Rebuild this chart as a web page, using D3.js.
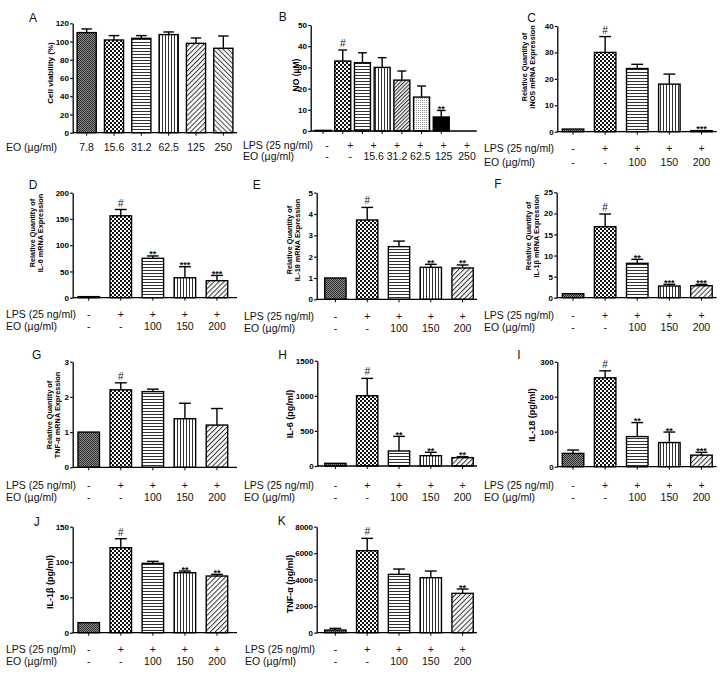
<!DOCTYPE html>
<html><head><meta charset="utf-8">
<script src="https://cdn.jsdelivr.net/npm/d3@7"></script>
<style>body{margin:0;background:#fff;} svg{display:block;font-family:"Liberation Sans",Arial,sans-serif;}</style>
</head><body><svg id="c" width="723" height="677"></svg>
<script>
// ---------- data ----------
const lpsRow5 = ["-","+","+","+","+"];
const eoRow5 = ["-","-","100","150","200"];
const lpsRow7 = ["-","+","+","+","+","+","+"];
const eoRow7 = ["-","-","15.6","31.2","62.5","125","250"];

const aCategories = ["7.8","15.6","31.2","62.5","125","250"];
const aValues = [109.8,101.7,103.5,107.6,98.0,92.6];
const aErrors = [4.0,4.8,3.0,2.9,5.9,13.5];
const aSig = ["","","","","",""];
const aTicks = [0,20,40,60,80,100,120];

const bValues = [0.3,33.0,32.2,30.0,24.0,16.0,6.6];
const bErrors = [0,5.2,4.7,4.6,4.3,5.2,3.1];
const bSig = ["","#","","","","","**"];
const bTicks = [0,10,20,30,40,50];

const cValues = [1.0,30.0,23.9,18.0,0.4];
const cErrors = [0,6.0,1.6,3.8,0];
const cSig = ["","#","","","***"];
const cTicks = [0,10,20,30,40];

const dValues = [2,156,75,38,32.4];
const dErrors = [0,12,4.5,21,10];
const dSig = ["","#","**","***","***"];
const dTicks = [0,50,100,150,200];

const eValues = [1.0,3.72,2.47,1.5,1.47];
const eErrors = [0,0.59,0.26,0.14,0.14];
const eSig = ["","#","","**","**"];
const eTicks = [0,1,2,3,4,5];

const fValues = [0.95,16.85,8.15,2.77,2.85];
const fErrors = [0,3.0,0.95,0.39,0.31];
const fSig = ["","#","**","***","***"];
const fTicks = [0,5,10,15,20,25];

const gValues = [1.0,2.2,2.15,1.38,1.2];
const gErrors = [0,0.2,0.07,0.44,0.47];
const gSig = ["","#","","",""];
const gTicks = [0,1,2,3];

const hValues = [38,1001,214,147,119];
const hErrors = [0,247,208,48,14];
const hSig = ["","#","**","**","**"];
const hTicks = [0,500,1000,1500];

const iValues = [38,254,86,69,33];
const iErrors = [9.6,20,40,30,8];
const iSig = ["","#","**","**","***"];
const iTicks = [0,100,200,300];

const jValues = [14.2,120.3,98.1,84.9,80.2];
const jErrors = [0,12.7,2.9,2.4,2.3];
const jSig = ["","#","","**","**"];
const jTicks = [0,50,100,150];

const kValues = [201,6189,4403,4151,2969];
const kErrors = [126,931,402,503,327];
const kSig = ["","#","","","**"];
const kTicks = [0,2000,4000,6000,8000];

const LPS = "LPS (25 ng/ml)", EO = "EO (µg/ml)";
const fills5 = ["dense","check","hlines","vlines","diagR"];

// ---------- layout ----------
const panels = [
 {letter:"A",lx:33,ly:18,values:aValues,errors:aErrors,sig:aSig,ticks:aTicks,axisX:[72.7,237],barRange:[73,237],pad:0.3,y0:132.7,yTop:23.3,
  fills:["dense","check","hlines","vlines","diagR","diagL"],title:["Cell viability (%)"],tx:[50],ty:73,tsize:8,
  rows:[{name:EO,items:aCategories,y:147}],rowX:6},
 {letter:"B",lx:282.7,ly:16.7,values:bValues,errors:bErrors,sig:bSig,ticks:bTicks,axisX:[310.7,476.7],barRange:[313.2,451.1],pad:0.19,y0:131,yTop:25,
  fills:["dense","check","hlines","vlines","diagDense","dots","black"],title:["NO (µM)"],tx:[296.5],ty:75,tsize:8.5,
  rows:[{name:LPS,items:lpsRow7,y:145},{name:EO,items:eoRow7,y:156.7}],rowX:243,labelRange:[327,467]},
 {letter:"C",lx:531.7,ly:18,values:cValues,errors:cErrors,sig:cSig,ticks:cTicks,axisX:[557.3,716.7],barRange:[557,717.5],pad:0.33,y0:131.7,yTop:26,
  fills:fills5,title:["Relative Quantity of","iNOS mRNA Expression"],tx:[524.3,532.6],ty:67,tsize:7.3,
  rows:[{name:LPS,items:lpsRow5,y:148.3},{name:EO,items:eoRow5,y:162.3}],rowX:484},
 {letter:"D",lx:33,ly:185,values:dValues,errors:dErrors,sig:dSig,ticks:dTicks,axisX:[72.7,237],barRange:[72.7,233],pad:0.33,y0:297.7,yTop:192.7,
  fills:fills5,title:["Relative Quantity of","IL-6 mRNA Expression"],tx:[32.3,40.6],ty:233,tsize:7.3,
  rows:[{name:LPS,items:lpsRow5,y:314.5},{name:EO,items:eoRow5,y:326.5}],rowX:6},
 {letter:"E",lx:256.7,ly:185,values:eValues,errors:eErrors,sig:eSig,ticks:eTicks,axisX:[316.7,477],barRange:[319.5,478.5],pad:0.33,y0:299.3,yTop:192.7,
  fills:fills5,title:["Relative Quantity of","IL-18 mRNA Expression"],tx:[289.3,297.6],ty:240,tsize:7.3,
  rows:[{name:LPS,items:lpsRow5,y:316.3},{name:EO,items:eoRow5,y:328.3}],rowX:244},
 {letter:"F",lx:498,ly:184,values:fValues,errors:fErrors,sig:fSig,ticks:fTicks,axisX:[556.7,716.7],barRange:[557,717.5],pad:0.33,y0:297.7,yTop:192.3,
  fills:fills5,title:["Relative Quantity of","IL-1β mRNA Expression"],tx:[528.3,536.6],ty:236,tsize:7.3,
  rows:[{name:LPS,items:lpsRow5,y:315.5},{name:EO,items:eoRow5,y:327.3}],rowX:484},
 {letter:"G",lx:36.7,ly:355,values:gValues,errors:gErrors,sig:gSig,ticks:gTicks,axisX:[72.7,237],barRange:[72.7,233],pad:0.33,y0:467.3,yTop:361.7,
  fills:fills5,title:["Relative Quantity of","TNF-α mRNA Expression"],tx:[49.3,57.6],ty:415,tsize:7.3,
  rows:[{name:LPS,items:lpsRow5,y:485},{name:EO,items:eoRow5,y:496.9}],rowX:6},
 {letter:"H",lx:282.7,ly:355,values:hValues,errors:hErrors,sig:hSig,ticks:hTicks,axisX:[317.3,477],barRange:[319.5,478.5],pad:0.33,y0:466,yTop:360.7,
  fills:fills5,title:["IL-6 (pg/ml)"],tx:[290],ty:414,tsize:9,
  rows:[{name:LPS,items:lpsRow5,y:485},{name:EO,items:eoRow5,y:496.9}],rowX:244},
 {letter:"I",lx:519,ly:355,values:iValues,errors:iErrors,sig:iSig,ticks:iTicks,axisX:[557.3,716.7],barRange:[557,717.5],pad:0.33,y0:466.7,yTop:361.7,
  fills:fills5,title:["IL-18 (pg/ml)"],tx:[532.3],ty:415,tsize:9,
  rows:[{name:LPS,items:lpsRow5,y:485},{name:EO,items:eoRow5,y:496.9}],rowX:484},
 {letter:"J",lx:36.7,ly:521.7,values:jValues,errors:jErrors,sig:jSig,ticks:jTicks,axisX:[72.7,237],barRange:[72.7,233],pad:0.33,y0:632.7,yTop:526.7,
  fills:fills5,title:["IL-1β (pg/ml)"],tx:[50],ty:582,tsize:9,
  rows:[{name:LPS,items:lpsRow5,y:649.3},{name:EO,items:eoRow5,y:661.5}],rowX:6},
 {letter:"K",lx:281.7,ly:521,values:kValues,errors:kErrors,sig:kSig,ticks:kTicks,axisX:[316.7,477],barRange:[319.5,478.5],pad:0.33,y0:632.7,yTop:526.7,
  fills:fills5,title:["TNF-α (pg/ml)"],tx:[290],ty:584,tsize:9,
  rows:[{name:LPS,items:lpsRow5,y:649.7},{name:EO,items:eoRow5,y:661.7}],rowX:245}
];

// ---------- patterns ----------
const svg = d3.select("#c");
const defs = svg.append("defs");
function pat(id,w,h,draw,tf){
  const p = defs.append("pattern").attr("id",id).attr("patternUnits","userSpaceOnUse").attr("width",w).attr("height",h);
  if (tf) p.attr("patternTransform",tf);
  draw(p);
}
function r(p,x,y,w,h,c){p.append("rect").attr("x",x).attr("y",y).attr("width",w).attr("height",h).attr("fill",c);}
pat("dense",2,2,p=>{r(p,0,0,2,2,"#8a8a8a");r(p,0,0,1,1,"#2e2e2e");r(p,1,1,1,1,"#2e2e2e");});
pat("check",4,4,p=>{r(p,0,0,4,4,"#fff");r(p,0,0,2,2,"#111");r(p,2,2,2,2,"#111");});
pat("hlines",4,3,p=>{r(p,0,0,4,3,"#fff");r(p,0,0,4,1,"#333");});
pat("vlines",3,4,p=>{r(p,0,0,3,4,"#fff");r(p,0,0,1,4,"#333");});
pat("diagR",3.5,4,p=>{r(p,0,0,3.5,4,"#fff");r(p,0,0,1,4,"#333");},"rotate(45)");
pat("diagL",3.5,4,p=>{r(p,0,0,3.5,4,"#fff");r(p,0,0,1,4,"#444");},"rotate(-45)");
pat("diagDense",2.6,4,p=>{r(p,0,0,2.6,4,"#fff");r(p,0,0,1.1,4,"#333");},"rotate(45)");
pat("dots",2,2,p=>{r(p,0,0,2,2,"#fff");r(p,0,0,1,1,"#9a9a9a");});
pat("black",4,4,p=>{r(p,0,0,4,4,"#000");});

// ---------- draw ----------
function drawPanel(L){
  const g = svg.append("g");
  const y = d3.scaleLinear().domain([0, d3.max(L.ticks)]).range([L.y0, L.yTop]);
  const idx = d3.range(L.values.length);
  const xb = d3.scaleBand().domain(idx).range(L.barRange).paddingInner(L.pad).paddingOuter(L.pad/2);
  const cx = i => xb(i) + xb.bandwidth()/2;
  const lx = L.labelRange ? d3.scalePoint().domain(idx).range(L.labelRange) : cx;

  // bars
  g.selectAll("rect.bar").data(L.values).join("rect").attr("class","bar")
    .attr("x",(d,i)=>xb(i)).attr("y",d=>y(d)).attr("width",xb.bandwidth())
    .attr("height",d=>Math.max(0.01,L.y0-y(d)))
    .attr("fill",(d,i)=>`url(#${L.fills[i]})`).attr("stroke","#000").attr("stroke-width",1.4);

  // error bars
  const cap = xb.bandwidth()*0.55;
  idx.filter(i=>L.errors[i]>0).forEach(i=>{
    const top = y(L.values[i]+L.errors[i]);
    g.append("line").attr("x1",cx(i)).attr("x2",cx(i)).attr("y1",y(L.values[i])).attr("y2",top).attr("stroke","#000").attr("stroke-width",1.4);
    g.append("line").attr("x1",cx(i)-cap/2).attr("x2",cx(i)+cap/2).attr("y1",top).attr("y2",top).attr("stroke","#000").attr("stroke-width",1.4);
  });

  // significance marks
  idx.filter(i=>L.sig[i]).forEach(i=>{
    const top = y(L.values[i]+L.errors[i]);
    const isHash = L.sig[i]==="#";
    g.append("text").attr("x",cx(i)).attr("y",isHash? top-3 : top+1.5)
      .attr("text-anchor","middle").attr("font-size",isHash?10:9).attr("font-weight",isHash?"normal":"bold")
      .attr("fill","#111").text(L.sig[i]);
  });

  // y axis
  const ya = g.append("g").attr("transform",`translate(${L.axisX[0]},0)`)
    .call(d3.axisLeft(y).tickValues(L.ticks).tickFormat(d3.format("d")).tickSize(2.5).tickSizeOuter(0).tickPadding(1.2));
  ya.attr("font-family",null);
  ya.select(".domain").attr("stroke","#000").attr("stroke-width",1.3);
  ya.selectAll(".tick line").attr("stroke","#000").attr("stroke-width",1.2);
  ya.selectAll(".tick text").attr("font-size",8).attr("font-weight","bold").attr("fill","#000");

  // x axis
  g.append("line").attr("x1",L.axisX[0]).attr("x2",L.axisX[1]).attr("y1",L.y0).attr("y2",L.y0).attr("stroke","#000").attr("stroke-width",1.3);
  g.selectAll("line.xt").data(idx).join("line").attr("class","xt")
    .attr("x1",i=>cx(i)).attr("x2",i=>cx(i)).attr("y1",L.y0).attr("y2",L.y0+3).attr("stroke","#000").attr("stroke-width",1);

  // panel letter
  g.append("text").attr("x",L.lx).attr("y",L.ly).attr("dy","0.35em").attr("text-anchor","middle").attr("font-size",12).attr("fill","#111").text(L.letter);

  // y title
  L.title.forEach((t,k)=>{
    g.append("text").attr("transform",`translate(${L.tx[k]},${L.ty}) rotate(-90)`).attr("dy","0.35em")
      .attr("text-anchor","middle").attr("font-size",L.tsize).attr("font-weight","bold").attr("fill","#000").text(t);
  });

  // label rows
  L.rows.forEach(row=>{
    g.append("text").attr("x",L.rowX).attr("y",row.y).attr("dy","0.35em").attr("font-size",10.5).attr("fill","#111").text(row.name);
    g.selectAll(null).data(row.items).join("text").attr("x",(d,i)=>lx(i)).attr("y",row.y).attr("dy","0.35em")
      .attr("text-anchor","middle").attr("font-size",10.5).attr("fill","#111").text(d=>d);
  });
}
panels.forEach(drawPanel);
</script></body></html>
